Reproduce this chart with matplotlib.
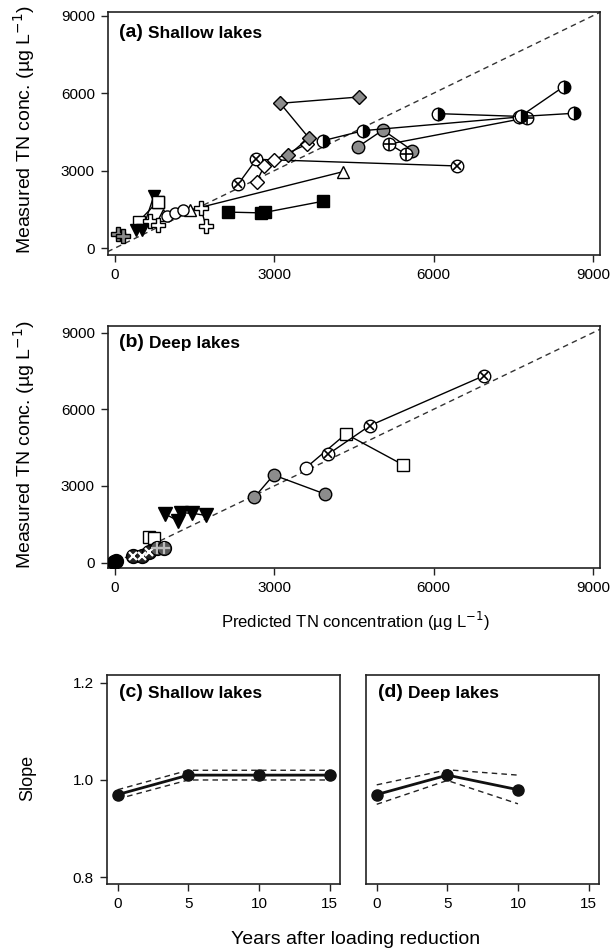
import matplotlib
matplotlib.use("Agg")
import matplotlib.pyplot as plt
import numpy as np

plt.rcParams['font.family'] = ['Liberation Sans', 'DejaVu Sans']

# ---------------- Panel (a) shallow lakes: predicted (x) vs measured (y) --------------
a_gray_diamond_x = [3265, 3654, 3115, 4598]
a_gray_diamond_y = [3597, 4268, 5609, 5854]
a_white_diamond_x = [2673, 2816, 2995, 3624]
a_white_diamond_y = [2579, 3198, 3417, 4036]
a_otimes_x = [2321, 2666, 6440]
a_otimes_y = [2476, 3443, 3185]
a_halfA_x = [3924, 4680, 7615, 8447]
a_halfA_y = [4165, 4552, 5080, 6254]
a_halfB_x = [6088, 7650, 8634]
a_halfB_y = [5209, 5100, 5222]
a_gray_circle_x = [4583, 5047, 5601]
a_gray_circle_y = [3933, 4577, 3778]
a_oplus_x = [5481, 5167, 7765]
a_oplus_y = [3636, 4036, 5054]
a_triangle_x = [905, 1418, 4300]
a_triangle_y = [1288, 1482, 2966]
a_circle_x = [990, 1130, 1290]
a_circle_y = [1250, 1350, 1470]
a_cross1_x = [674, 823]
a_cross1_y = [1070, 890]
a_cross2_x = [1625, 1715]
a_cross2_y = [1547, 864]
a_gray_cross_x = [60, 160]
a_gray_cross_y = [560, 480]
a_white_square_x = [449, 809]
a_white_square_y = [1031, 1805]
a_black_tri_x = [400, 520, 740]
a_black_tri_y = [720, 690, 2040]
a_black_square_x = [2130, 2750, 2830, 3920]
a_black_square_y = [1400, 1370, 1390, 1820]

# ---------------- Panel (b) deep lakes ----------------
b_gray_circle_x = [2630, 2990, 3950]
b_gray_circle_y = [2560, 3430, 2690]
b_white_circle_x = [3600]
b_white_circle_y = [3717]
b_white_square_x = [3600, 4350, 5430]
b_white_square_y = [3717, 5035, 3822]
b_otimes_x = [4015, 4800, 6950]
b_otimes_y = [4241, 5360, 7316]
b_black_tri_x = [954, 1190, 1250, 1459, 1711]
b_black_tri_y = [1900, 1640, 1950, 1933, 1850]
b_black_x_circle_x = [354, 513, 650]
b_black_x_circle_y = [250, 280, 430]
b_sq_x = [638, 732]
b_sq_y = [1017, 955]
b_gray_plus_x = [797, 922]
b_gray_plus_y = [563, 563]
b_black_circle_x = [-20, 20]
b_black_circle_y = [40, 60]

# ---------------- Panels (c), (d): slope vs years ----------------
years_c = [0, 5, 10, 15]
slope_c = [0.970, 1.010, 1.010, 1.010]
upper_c = [0.980, 1.020, 1.020, 1.020]
lower_c = [0.961, 1.000, 1.000, 1.000]
years_d = [0, 5, 10]
slope_d = [0.970, 1.010, 0.980]
upper_d = [0.990, 1.021, 1.010]
lower_d = [0.950, 0.999, 0.951]

xticks_ab = [0, 3000, 6000, 9000]
yticks_ab = [0, 3000, 6000, 9000]
xticks_cd = [0, 5, 10, 15]
yticks_cd = [0.8, 1.0, 1.2]

W, H = 616, 952
fig = plt.figure(figsize=(W / 100, H / 100), dpi=100)

def rect(l, r, t, b):
    return [l / W, 1 - b / H, (r - l) / W, (b - t) / H]

ax_a = fig.add_axes(rect(108, 600, 12.3, 255))
ax_b = fig.add_axes(rect(108, 600, 325.7, 568.3))
ax_c = fig.add_axes(rect(107, 340, 675, 884))
ax_d = fig.add_axes(rect(366, 599, 675, 884))

GRAY = '#8c8c8c'
LW = 1.0
MS = 8

def style(ax):
    for s in ax.spines.values():
        s.set_linewidth(1.2)
        s.set_color('#222222')
    ax.tick_params(direction='out', length=5, width=1.0, labelsize=11, color='#222222', pad=4.5)

def series(ax, x, y, marker, fc, ec='black', ms=MS, line=True, z=3, mew=1.0, **kw):
    ax.plot(x, y, '-' if line else 'none', color='black', lw=LW, marker=marker,
            mfc=fc, mec=ec, ms=ms, mew=mew, zorder=z, **kw)

def overlay(ax, x, y, marker, color, ms=MS * 0.75, z=4, mew=1.2):
    ax.plot(x, y, 'none', marker=marker, mec=color, ms=ms, mew=mew, zorder=z)

# ---------- panel a ----------
ax = ax_a
ax.plot([-300, 9300], [-300, 9300], ls=(0, (4, 3)), color='#333333', lw=1.0, zorder=1)
series(ax, a_black_square_x, a_black_square_y, 's', 'black', ms=9)
series(ax, a_triangle_x, a_triangle_y, '^', 'white')
series(ax, a_circle_x, a_circle_y, 'o', 'white')
series(ax, a_white_square_x, a_white_square_y, 's', 'white', ms=8.5)
series(ax, a_black_tri_x, a_black_tri_y, 'v', 'black')
series(ax, a_white_square_x[1:], a_white_square_y[1:], 's', 'white', ms=8.5, line=False, z=4)
series(ax, a_cross1_x, a_cross1_y, 'P', 'white', ms=10.5)
series(ax, a_cross2_x, a_cross2_y, 'P', 'white', ms=10.5)
series(ax, a_gray_cross_x, a_gray_cross_y, 'P', GRAY, ms=10.5)
series(ax, a_otimes_x, a_otimes_y, 'o', 'white', ms=9)
overlay(ax, a_otimes_x, a_otimes_y, 'x', 'black', ms=6)
series(ax, a_white_diamond_x, a_white_diamond_y, 'D', 'white', ms=7)
series(ax, a_gray_diamond_x, a_gray_diamond_y, 'D', GRAY, ms=7.5)
series(ax, a_gray_circle_x, a_gray_circle_y, 'o', GRAY, ms=9)
series(ax, a_oplus_x, a_oplus_y, 'o', 'white', ms=9)
overlay(ax, a_oplus_x, a_oplus_y, '+', 'black', ms=9)
series(ax, a_halfA_x, a_halfA_y, 'o', 'black', ms=9, fillstyle='right', markerfacecoloralt='white')
series(ax, a_halfB_x, a_halfB_y, 'o', 'black', ms=9, fillstyle='right', markerfacecoloralt='white')

ax.set_xlim(-125, 9130)
ax.set_ylim(-260, 9130)
ax.set_xticks(xticks_ab)
ax.set_yticks(yticks_ab)
style(ax)
t = ax.text(0.022, 0.915, "(a)", transform=ax.transAxes, fontsize=14, fontweight='bold', va='center', ha='left')
ax.annotate("Shallow lakes", xy=(1, 0), xycoords=t, xytext=(4, 0), textcoords='offset points',
            fontsize=12.5, fontweight='bold', va='bottom', ha='left')

# ---------- panel b ----------
ax = ax_b
ax.plot([-300, 9300], [-300, 9300], ls=(0, (4, 3)), color='#333333', lw=1.0, zorder=1)
series(ax, b_gray_circle_x, b_gray_circle_y, 'o', GRAY, ms=9)
ax.plot(b_white_square_x, b_white_square_y, '-', color='black', lw=LW, marker='s', mfc='white',
        mec='black', ms=8.5, markevery=[1, 2], zorder=3)
series(ax, b_white_circle_x, b_white_circle_y, 'o', 'white', ms=9, line=False, z=4)
series(ax, b_otimes_x, b_otimes_y, 'o', 'white', ms=9)
overlay(ax, b_otimes_x, b_otimes_y, 'x', 'black', ms=6)
series(ax, b_black_tri_x, b_black_tri_y, 'v', 'black', ms=9.5)
series(ax, b_sq_x, b_sq_y, 's', 'white', ms=8.5)
series(ax, b_black_x_circle_x, b_black_x_circle_y, 'o', '#222222', ms=10)
overlay(ax, b_black_x_circle_x, b_black_x_circle_y, 'x', 'white', ms=6, mew=1.6)
series(ax, b_gray_plus_x, b_gray_plus_y, 'o', '#555555', ms=10)
overlay(ax, b_gray_plus_x, b_gray_plus_y, '+', '#bbbbbb', ms=8, mew=1.6)
series(ax, b_black_circle_x, b_black_circle_y, 'o', 'black', ms=10)

ax.set_xlim(-125, 9130)
ax.set_ylim(-220, 9270)
ax.set_xticks(xticks_ab)
ax.set_yticks(yticks_ab)
style(ax)
t = ax.text(0.022, 0.93, "(b)", transform=ax.transAxes, fontsize=14, fontweight='bold', va='center', ha='left')
ax.annotate("Deep lakes", xy=(1, 0), xycoords=t, xytext=(4, 0), textcoords='offset points',
            fontsize=12.5, fontweight='bold', va='bottom', ha='left')

# ---------- panels c, d ----------
for ax, yrs, s, up, lo, lab, name in [
        (ax_c, years_c, slope_c, upper_c, lower_c, "(c)", "Shallow lakes"),
        (ax_d, years_d, slope_d, upper_d, lower_d, "(d)", "Deep lakes")]:
    ax.plot(yrs, up, ls=(0, (4, 3)), color='#222222', lw=1.0)
    ax.plot(yrs, lo, ls=(0, (4, 3)), color='#222222', lw=1.0)
    ax.plot(yrs, s, '-', color='#111111', lw=2.0, marker='o', ms=8, mfc='#111111', mec='#111111')
    ax.set_xlim(-0.76, 15.74)
    ax.set_ylim(0.786, 1.216)
    ax.set_xticks(xticks_cd)
    ax.set_yticks(yticks_cd)
    ax.set_yticklabels(["0.8", "1.0", "1.2"])
    style(ax)
    t = ax.text(0.05, 0.915, lab, transform=ax.transAxes, fontsize=14, fontweight='bold', va='center', ha='left')
    ax.annotate(name, xy=(1, 0), xycoords=t, xytext=(4, 0), textcoords='offset points',
                fontsize=12.5, fontweight='bold', va='bottom', ha='left')

ax_d.tick_params(axis='y', left=False, labelleft=False)

fig.text(24 / W, 1 - 130 / H, "Measured TN conc. (µg L$^{-1}$)", rotation=90, ha='center', va='center', fontsize=14)
fig.text(24 / W, 1 - 445 / H, "Measured TN conc. (µg L$^{-1}$)", rotation=90, ha='center', va='center', fontsize=14)
fig.text(355 / W, 1 - 621 / H, "Predicted TN concentration (µg L$^{-1}$)", ha='center', va='center', fontsize=12)
fig.text(28 / W, 1 - 778 / H, "Slope", rotation=90, ha='center', va='center', fontsize=13)
fig.text(356 / W, 1 - 940 / H, "Years after loading reduction", ha='center', va='center', fontsize=14)

fig.savefig("out.png", dpi=100)
